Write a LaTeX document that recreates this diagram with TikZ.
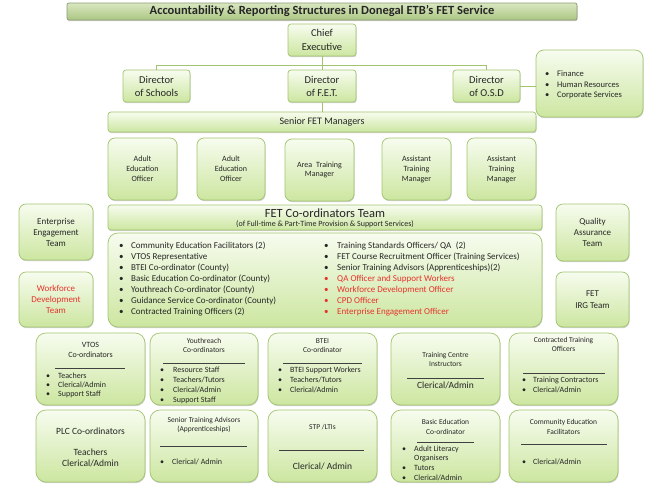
\documentclass[tikz,border=0pt]{standalone}
\usepackage{fontspec}
\setmainfont{Carlito}
\usetikzlibrary{shadows}
\definecolor{bxtop}{HTML}{F7FCEF}
\definecolor{bxbot}{HTML}{CCE6A0}
\definecolor{bxline}{HTML}{A3C46E}
\definecolor{ttop}{HTML}{D9E7C0}
\definecolor{tbot}{HTML}{ABC683}
\definecolor{tline}{HTML}{8C9C74}
\definecolor{conn}{HTML}{A3C46E}
\definecolor{redtxt}{HTML}{E8322C}
\definecolor{txt}{HTML}{262626}
\newcommand\fs[2]{\fontsize{#1}{#2}\selectfont}
\newcommand\bl[1][10pt]{\makebox[#1][l]{\textbullet}}
\newcommand\blst[1]{\begin{tabular}[t]{@{}l@{}}#1\end{tabular}}
\tikzset{
 gbox/.style={draw=bxline, line width=0.7pt, top color=bxtop, bottom color=bxbot,
   rounded corners=#1, inner sep=0pt, outer sep=0pt, align=center, text=txt,
   drop shadow={shadow xshift=0.6pt, shadow yshift=-1.2pt, opacity=0.3, fill=black!60}},
 gbox/.default=7pt,
 tbox/.style={draw=tline, line width=0.7pt, top color=ttop, bottom color=tbot,
   rounded corners=2pt, inner sep=0pt, outer sep=0pt, align=center, text=txt,
   drop shadow={shadow xshift=0.6pt, shadow yshift=-1.2pt, opacity=0.3, fill=black!60}},
 lst/.style={anchor=base west, inner sep=0pt, text=txt},
 lbl/.style={inner sep=0pt, align=center, text=txt},
 conn/.style={draw=conn, line width=0.9pt},
 divl/.style={draw=black!75, line width=0.5pt},
}
% \gb[radius]{name}{x1}{y1}{x2}{y2}{options}{text}
\newcommand\gb[8][7pt]{\node[gbox=#1, minimum width={(#5-#3)*1pt}, minimum height={(#6-#4)*1pt}, #7] (#2) at ({(#3+#5)/2},{(#4+#6)/2}) {#8};}
\begin{document}
\begin{tikzpicture}[x=1pt,y=-1pt]
\useasboundingbox (0,0) rectangle (651,491);
\fill[white] (0,0) rectangle (651,491);

% title
\node[tbox, minimum width=510pt, minimum height=17pt, font=\fs{12.5}{14}\bfseries] (title) at (322,11.5)
  {Accountability \& Reporting Structures in Donegal ETB’s FET Service};

% top hierarchy
\gb[3pt]{chief}{288}{24}{356}{56}{font=\fs{10.5}{14}}{Chief\\Executive}
\gb[3pt]{sch}{123}{70}{190}{102}{font=\fs{10.5}{13}}{Director\\of Schools}
\gb[3pt]{fet}{288}{70}{356}{102}{font=\fs{10.5}{13}}{Director\\of F.E.T.}
\gb[3pt]{osd}{453}{70}{520}{102}{font=\fs{10.5}{13}}{Director\\of O.S.D}
\gb[8pt]{fin}{536}{50}{643}{117}{}{}
\node[lst, font=\fs{8.5}{10.5}] (finl) at (545,76.5) {\blst{\bl[12pt]Finance\\\bl[12pt]Human Resources\\\bl[12pt]Corporate Services}};

\gb[3pt]{senior}{108}{112}{536}{132}{font=\fs{10}{12}}{Senior FET Managers}

\draw[conn] (chief.south) -- (fet.north);
\draw[conn] (sch.north) -- ++(0,-5) -| (osd.north);
\draw[conn] (fet.south) -- (senior.north);
\draw[conn] (osd.east) -- (osd.east -| fin.west);

% managers row
\gb{ae1}{108}{138}{177}{200}{font=\fs{8}{10}}{Adult\\Education\\Officer}
\gb{ae2}{197}{138}{265}{200}{font=\fs{8}{10}}{Adult\\Education\\Officer}
\gb{atm}{285}{139}{354}{201}{font=\fs{8}{9.5}}{Area\enspace Training\\Manager}
\gb{astm1}{382}{138}{451}{200}{font=\fs{8}{10}}{Assistant\\Training\\Manager}
\gb{astm2}{467}{138}{536}{200}{font=\fs{8}{10}}{Assistant\\Training\\Manager}

% FET coordinators team
\gb[3pt]{coord}{108}{205}{542}{230}{}{}
\node[lbl, font=\fs{12.5}{14}] (coordt) at (325,213) {FET Co-ordinators Team};
\node[lbl, font=\fs{8}{10}] (coords) at (325,224.5) {(of Full-time \& Part-Time Provision \& Support Services)};
\gb[10pt]{list}{108}{233}{542}{327}{}{}
\node[lst, font=\fs{9}{11}] (listl) at (119,248) {\blst{%
\bl[12pt]Community Education Facilitators (2)\\
\bl[12pt]VTOS Representative\\
\bl[12pt]BTEI Co-ordinator (County)\\
\bl[12pt]Basic Education Co-ordinator (County)\\
\bl[12pt]Youthreach Co-ordinator (County)\\
\bl[12pt]Guidance Service Co-ordinator (County)\\
\bl[12pt]Contracted Training Officers (2)}};
\node[lst, font=\fs{9}{11}] (listr) at (324,248) {\blst{%
\bl[13pt]Training Standards Officers/ QA\enspace(2)\\
\bl[13pt]FET Course Recruitment Officer (Training Services)\\
\bl[13pt]Senior Training Advisors (Apprenticeships)(2)\\
{\color{redtxt}\bl[13pt]QA Officer and Support Workers}\\
{\color{redtxt}\bl[13pt]Workforce Development Officer}\\
{\color{redtxt}\bl[13pt]CPD Officer}\\
{\color{redtxt}\bl[13pt]Enterprise Engagement Officer}}};

% side boxes
\gb{ent}{19}{204}{93}{260}{font=\fs{9}{11}}{Enterprise\\Engagement\\Team}
\gb{wfd}{19}{272}{93}{327}{font=\fs{9}{11}, text=redtxt}{Workforce\\Development\\Team}
\gb{qa}{556}{204}{629}{261}{font=\fs{9}{11}}{Quality\\Assurance\\Team}
\gb{irg}{556}{272}{629}{327}{font=\fs{9}{12}}{FET\\IRG Team}

% bottom row 1
\gb[10pt]{vtos}{36}{333}{145}{405}{}{}
\node[lbl, font=\fs{8}{10}] (vtost) at (90.5,350) {VTOS\\Co-ordinators};
\draw[divl] (55,368) -- (125,368);
\node[lst, font=\fs{8}{9.4}] (vtosl) at (46,378) {\blst{\bl[12pt]Teachers\\\bl[12pt]Clerical/Admin\\\bl[12pt]Support Staff}};

\gb[10pt]{yr}{150}{333}{258}{405}{}{}
\node[lbl, font=\fs{7.5}{9.5}] (yrt) at (204,345.5) {Youthreach\\Co-ordinators};
\draw[divl] (163,363) -- (245,363);
\node[lst, font=\fs{8}{10}] (yrl) at (160,372) {\blst{\bl[13pt]Resource Staff\\\bl[13pt]Teachers/Tutors\\\bl[13pt]Clerical/Admin\\\bl[13pt]Support Staff}};

\gb[10pt]{btei}{268}{333}{377}{405}{}{}
\node[lbl, font=\fs{7.5}{9.5}] (bteit) at (322.5,345.5) {BTEI\\Co-ordinator};
\draw[divl] (283,363) -- (362,363);
\node[lst, font=\fs{8}{10}] (bteil) at (278,372) {\blst{\bl[12pt]BTEI Support Workers\\\bl[12pt]Teachers/Tutors\\\bl[12pt]Clerical/Admin}};

\gb[10pt]{tci}{391}{333}{500}{405}{}{}
\node[lbl, font=\fs{7.5}{9}] (tcit) at (445.5,359) {Training Centre\\Instructors};
\draw[divl] (407,378) -- (484,378);
\node[lbl, font=\fs{9.5}{11}] (tcic) at (445.5,385.5) {Clerical/Admin};

\gb[10pt]{cto}{509}{333}{618}{405}{}{}
\node[lbl, font=\fs{7.5}{9.5}] (ctot) at (563.5,344.5) {Contracted Training\\Officers};
\draw[divl] (523,373) -- (605,373);
\node[lst, font=\fs{8}{10}] (ctol) at (522,382) {\blst{\bl[11pt]Training Contractors\\\bl[11pt]Clerical/Admin}};

% bottom row 2
\gb[10pt]{plc}{36}{410}{145}{482}{}{}
\node[lbl, font=\fs{9.5}{11}] (plct) at (90.5,431) {PLC Co-ordinators};
\node[lbl, font=\fs{9.5}{11}] (plcs) at (90.5,457.5) {Teachers\\Clerical/Admin};

\gb[10pt]{sta}{150}{410}{258}{482}{}{}
\node[lbl, font=\fs{7.5}{9}] (stat) at (204,424.5) {Senior Training Advisors\\(Apprenticeships)};
\draw[divl] (160,446) -- (247,446);
\node[lst, font=\fs{8}{10}] (stal) at (160,464.5) {\blst{\bl[12pt]Clerical/ Admin}};

\gb[10pt]{stp}{268}{410}{377}{482}{}{}
\node[lbl, font=\fs{7.5}{9}] (stpt) at (322.5,427) {STP /LTIs};
\draw[divl] (279,450) -- (364,450);
\node[lbl, font=\fs{9.5}{11}] (stpc) at (322.5,466) {Clerical/ Admin};

\gb[10pt]{bed}{391}{410}{500}{482}{}{}
\node[lbl, font=\fs{7.5}{10}] (bedt) at (445.5,427) {Basic Education\\Co-ordinator};
\draw[divl] (417,442) -- (474,442);
\node[lst, font=\fs{8}{9.8}] (bedl) at (402,451) {\blst{\bl[12pt]Adult Literacy\\\hspace*{12pt}Organisers\\\bl[12pt]Tutors\\\bl[12pt]Clerical/Admin}};

\gb[10pt]{cef}{509}{410}{618}{482}{}{}
\node[lbl, font=\fs{7.5}{10}] (ceft) at (563.5,427) {Community Education\\Facilitators};
\draw[divl] (521,444) -- (607,444);
\node[lst, font=\fs{8}{10}] (cefl) at (522,464) {\blst{\bl[11pt]Clerical/Admin}};
\end{tikzpicture}
\end{document}
